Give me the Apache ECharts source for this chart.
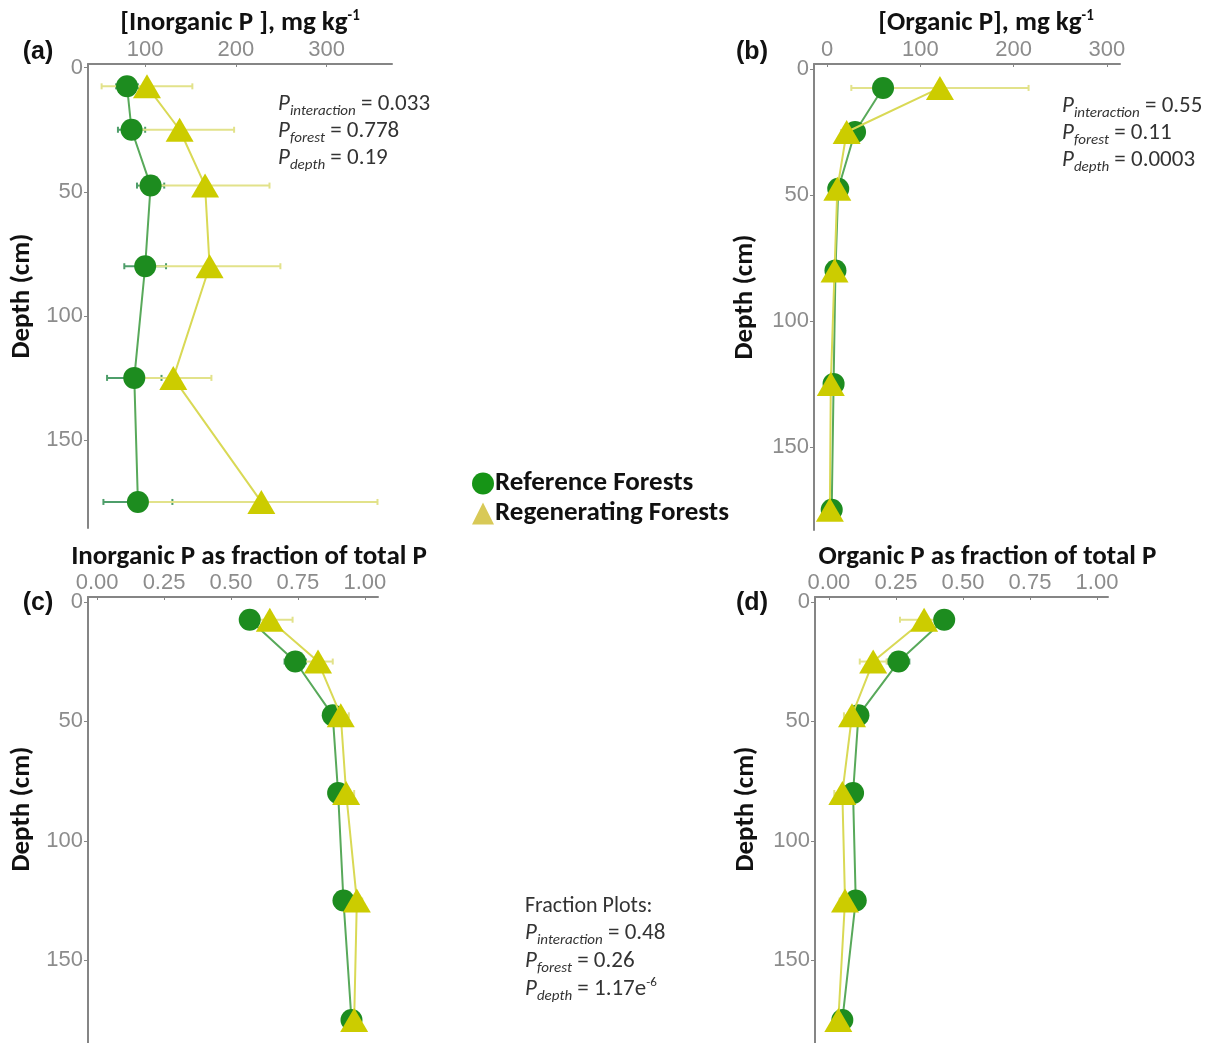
<!DOCTYPE html>
<html><head><meta charset="utf-8">
<script src="https://cdn.jsdelivr.net/npm/echarts@6/dist/echarts.min.js"></script>
<style>html,body{margin:0;padding:0;background:#fff}#c{width:1218px;height:1043px}</style>
</head><body><div id="c"></div><script>
// ---------- data ----------
const depths = [7.5, 25, 47.5, 80, 125, 175];
const depthTicks = [0, 50, 100, 150];
const inorgTicks = [100, 200, 300];
const orgTicks = [0, 100, 200, 300];
const fracTicks = [0, 0.25, 0.5, 0.75, 1];

const refInorg = [80, 85, 106, 100, 88, 92];
const refInorgErr = [12, 15, 15, 23, 30, 38];
const regInorg = [102, 138, 166, 171, 131, 228];
const regInorgErr = [50, 60, 71, 78, 42, 128];

const refOrg = [60, 30, 12, 9, 7, 5];
const refOrgErr = [8, 5, 3, 2, 2, 2];
const regOrg = [121, 21, 11, 8, 4, 3];
const regOrgErr = [95, 6, 3, 2, 2, 1];

const refInorgFrac = [0.57, 0.74, 0.88, 0.90, 0.92, 0.95];
const refInorgFracErr = [0.03, 0.04, 0.02, 0.02, 0.02, 0.02];
const regInorgFrac = [0.645, 0.825, 0.91, 0.93, 0.97, 0.96];
const regInorgFracErr = [0.085, 0.055, 0.03, 0.03, 0.02, 0.02];

const refOrgFrac = [0.43, 0.26, 0.11, 0.09, 0.10, 0.05];
const refOrgFracErr = [0.03, 0.04, 0.02, 0.02, 0.02, 0.02];
const regOrgFrac = [0.355, 0.165, 0.086, 0.05, 0.06, 0.035];
const regOrgFracErr = [0.09, 0.05, 0.03, 0.03, 0.02, 0.02];

// ---------- style ----------
const TICKF = 'Liberation Sans, Arial, sans-serif';
const TF = 'Carlito, Lato, sans-serif';
const GREEN = '#1d8c1f', GREEN_LINE = '#58a95a', GREEN_ERR = '#4e9e6a';
const YEL = '#cccc00', YEL_LINE = '#d9d955', YEL_ERR = '#e2e28a';
const AXC = '#858585';

const chart = echarts.init(document.getElementById('c'), null, {renderer: 'canvas'});

function xAx(idx, min, max, ticks, fmt, name, padL, gap) {
  return {
    type: 'value', gridIndex: idx, position: 'top', min, max,
    axisLine: {show: true, onZero: false, lineStyle: {color: AXC, width: 2}},
    axisTick: {show: true, customValues: ticks, length: 3, inside: true, lineStyle: {color: AXC}},
    axisLabel: {customValues: ticks, formatter: fmt, color: '#8c8c8c', fontSize: 22, fontFamily: TICKF, margin: 3},
    splitLine: {show: false},
    name, nameLocation: 'middle', nameGap: gap,
    nameTextStyle: {fontFamily: TF, fontWeight: 'bold', fontSize: 27, color: '#111', padding: [0, 0, 0, padL],
      rich: {sup: {fontFamily: TF, fontWeight: 'bold', fontSize: 15, color: '#111', padding: [0, 0, 14, 0]}}}
  };
}
function yAx(idx, min, max, gap, padL) {
  return {
    type: 'value', gridIndex: idx, inverse: true, min, max,
    axisLine: {show: true, onZero: false, lineStyle: {color: AXC, width: 2}},
    axisTick: {show: true, customValues: depthTicks, length: 4, lineStyle: {color: AXC}},
    axisLabel: {customValues: depthTicks, color: '#8c8c8c', fontSize: 22, fontFamily: TICKF, margin: 5},
    splitLine: {show: false},
    name: 'Depth (cm)', nameLocation: 'middle', nameGap: gap,
    nameTextStyle: {fontFamily: TF, fontWeight: 'bold', fontSize: 27, color: '#111', padding: [0, 0, 0, padL]}
  };
}
function errSeries(idx, xs, errs, color, z) {
  return {
    type: 'custom', name: 'err' + idx + color, xAxisIndex: idx, yAxisIndex: idx, z, silent: true,
    data: xs.map((v, i) => [v - errs[i], v + errs[i], depths[i]]),
    encode: {x: [0, 1], y: 2},
    renderItem: (params, api) => {
      const a = api.coord([api.value(0), api.value(2)]);
      const b = api.coord([api.value(1), api.value(2)]);
      const h = 3;
      const st = {stroke: color, lineWidth: 2};
      return {type: 'group', children: [
        {type: 'line', shape: {x1: a[0], y1: a[1], x2: b[0], y2: b[1]}, style: st},
        {type: 'line', shape: {x1: a[0], y1: a[1] - h, x2: a[0], y2: a[1] + h}, style: st},
        {type: 'line', shape: {x1: b[0], y1: b[1] - h, x2: b[0], y2: b[1] + h}, style: st}
      ]};
    }
  };
}
function refSeries(idx, xs) {
  return {type: 'line', name: 'Reference Forests', xAxisIndex: idx, yAxisIndex: idx, z: 3,
    data: xs.map((v, i) => [v, depths[i]]), symbol: 'circle', symbolSize: 22,
    itemStyle: {color: GREEN}, lineStyle: {color: GREEN_LINE, width: 2}};
}
function regSeries(idx, xs) {
  return {type: 'line', name: 'Regenerating Forests', xAxisIndex: idx, yAxisIndex: idx, z: 4,
    data: xs.map((v, i) => [v, depths[i]]), symbol: 'triangle', symbolSize: [28, 24],
    itemStyle: {color: YEL}, lineStyle: {color: YEL_LINE, width: 2}};
}
const f2 = v => v.toFixed(2);
const f0 = v => String(v);

function pLine(x, y, sub, val, sup) {
  return {type: 'text', x, y, silent: true, style: {
    text: '{p|P}{s|' + sub + '}{v| = ' + val + '}' + (sup ? '{e|' + sup + '}' : ''),
    align: 'left', verticalAlign: 'middle',
    rich: {
      p: {fontFamily: TF, fontStyle: 'italic', fontSize: 23, fill: '#333'},
      s: {fontFamily: TF, fontStyle: 'italic', fontSize: 15, fill: '#333', padding: [15, 0, 0, 0]},
      v: {fontFamily: TF, fontSize: 23, fill: '#333'},
      e: {fontFamily: TF, fontSize: 13, fill: '#333', padding: [0, 0, 13, 0]}
    }}};
}
function panelLabel(x, y, t) {
  return {type: 'text', x, y, silent: true, style: {text: t, fontFamily: TICKF, fontWeight: 'bold', fontSize: 25, fill: '#111', align: 'center', verticalAlign: 'middle'}};
}

const option = {
  animation: false,
  backgroundColor: '#fff',
  grid: [
    {left: 88, top: 64, width: 304, height: 464},
    {left: 814, top: 64, width: 306, height: 466},
    {left: 88, top: 597, width: 290, height: 446},
    {left: 815, top: 597, width: 293, height: 446}
  ],
  xAxis: [
    xAx(0, 37, 372, inorgTicks, f0, '[Inorganic P ], mg kg{sup|-1}', 0, 26),
    xAx(1, -14, 314, orgTicks, f0, '[Organic P], mg kg{sup|-1}', 38, 26),
    xAx(2, -0.034, 1.049, fracTicks, f2, 'Inorganic P as fraction of total P', 32, 25),
    xAx(3, -0.052, 1.041, fracTicks, f2, 'Organic P as fraction of total P', 52, 25)
  ],
  yAxis: [
    yAx(0, -1.5, 185.5, 52, 0),
    yAx(1, -2, 183, 55, 0),
    yAx(2, -2, 184.6, 52, 22),
    yAx(3, -2, 184.6, 55, 22)
  ],
  legend: {
    orient: 'vertical', left: 467, top: 465, itemWidth: 22, itemHeight: 22, itemGap: 3,
    selectedMode: false,
    textStyle: {fontFamily: TF, fontWeight: 'bold', fontSize: 27, color: '#111', padding: [0, 0, 0, -4]},
    data: [
      {name: 'Reference Forests', icon: 'circle', itemStyle: {color: '#169416'}},
      {name: 'Regenerating Forests', icon: 'triangle', itemStyle: {color: '#d8c957'}}
    ]
  },
  graphic: [
    panelLabel(38, 52, '(a)'), panelLabel(752, 52, '(b)'),
    panelLabel(38, 603, '(c)'), panelLabel(752, 603, '(d)'),
    pLine(278, 104, 'interaction', '0.033'),
    pLine(278, 131, 'forest', '0.778'),
    pLine(278, 158, 'depth', '0.19'),
    pLine(1062, 106, 'interaction', '0.55'),
    pLine(1062, 133, 'forest', '0.11'),
    pLine(1062, 160, 'depth', '0.0003'),
    {type: 'text', x: 525, y: 906, silent: true, style: {text: 'Fraction Plots:', fontFamily: TF, fontSize: 22, fill: '#333', align: 'left', verticalAlign: 'middle'}},
    pLine(525, 933, 'interaction', '0.48'),
    pLine(525, 961, 'forest', '0.26'),
    pLine(525, 989, 'depth', '1.17e', '-6')
  ],
  series: [
    errSeries(0, refInorg, refInorgErr, GREEN_ERR, 1), errSeries(0, regInorg, regInorgErr, YEL_ERR, 2),
    refSeries(0, refInorg), regSeries(0, regInorg),
    errSeries(1, refOrg, refOrgErr, GREEN_ERR, 1), errSeries(1, regOrg, regOrgErr, YEL_ERR, 2),
    refSeries(1, refOrg), regSeries(1, regOrg),
    errSeries(2, refInorgFrac, refInorgFracErr, GREEN_ERR, 1), errSeries(2, regInorgFrac, regInorgFracErr, YEL_ERR, 2),
    refSeries(2, refInorgFrac), regSeries(2, regInorgFrac),
    errSeries(3, refOrgFrac, refOrgFracErr, GREEN_ERR, 1), errSeries(3, regOrgFrac, regOrgFracErr, YEL_ERR, 2),
    refSeries(3, refOrgFrac), regSeries(3, regOrgFrac)
  ]
};
chart.setOption(option);
</script></body></html>
